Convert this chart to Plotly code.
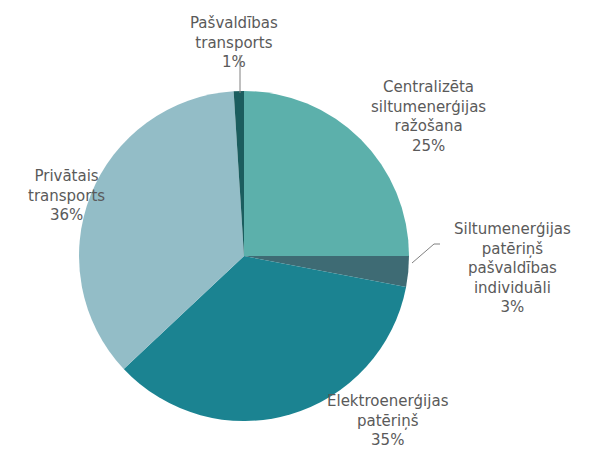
import plotly.graph_objects as go

W, H = 597, 450

categories = [
    "Centralizēta<br>siltumenerģijas<br>ražošana",
    "Siltumenerģijas<br>patēriņš<br>pašvaldības<br>individuāli",
    "Elektroenerģijas<br>patēriņš",
    "Privātais<br>transports",
    "Pašvaldības<br>transports",
]
values = [25, 3, 35, 36, 1]
colors = ["#5cb0ab", "#3e6b74", "#1b8391", "#93bdc7", "#1b5d5e"]

# label centres in pixels (x, y-top-based)
label_pos = [(428, 116), (512, 268), (388, 420), (66, 195), (234, 42)]

def px(x, y):
    return x / W, 1 - y / H

cx, cy, r = 244, 256, 165
fig = go.Figure(go.Pie(
    labels=[c.replace("<br>", " ") for c in categories],
    values=values,
    marker=dict(colors=colors, line=dict(width=0)),
    sort=False,
    direction="clockwise",
    rotation=0,
    textinfo="none",
    hoverinfo="label+percent",
    domain=dict(x=[(cx - r) / W, (cx + r) / W], y=[1 - (cy + r) / H, 1 - (cy - r) / H]),
    showlegend=False,
))

total = sum(values)
for cat, v, (x, y) in zip(categories, values, label_pos):
    ax, ay = px(x, y)
    fig.add_annotation(
        x=ax, y=ay, xref="paper", yref="paper",
        xanchor="center", yanchor="middle",
        text=f"{cat}<br>{round(100 * v / total)}%",
        showarrow=False, align="center",
        font=dict(family="DejaVu Sans", size=15, color="#5a5a5a"),
    )

# leader lines
for (x0, y0, x1, y1) in [(240, 55, 240, 93), (412, 263, 434, 244), (434, 244, 440, 244)]:
    a0, b0 = px(x0, y0)
    a1, b1 = px(x1, y1)
    fig.add_shape(type="line", xref="paper", yref="paper", x0=a0, y0=b0, x1=a1, y1=b1,
                  line=dict(color="#808080", width=1))

fig.update_layout(
    width=W, height=H,
    margin=dict(l=0, r=0, t=0, b=0),
    paper_bgcolor="white", plot_bgcolor="white",
)
fig.write_html("out.html", config={"displayModeBar": False},
               post_script="document.body.style.margin='0';")
